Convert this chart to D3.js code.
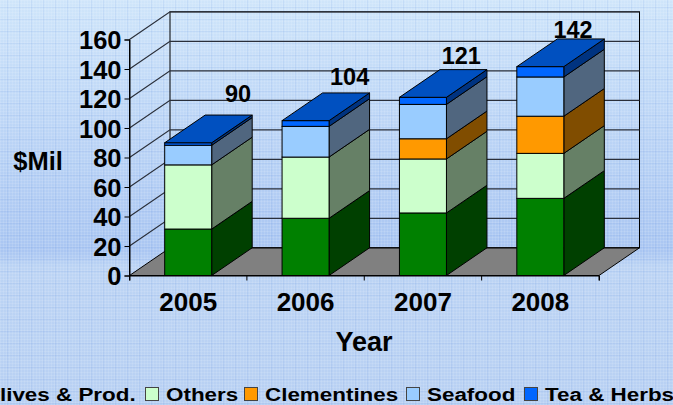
<!DOCTYPE html>
<html>
<head>
<meta charset="utf-8">
<script src="https://cdn.jsdelivr.net/npm/d3@7"></script>
<style>
html, body { margin: 0; padding: 0; overflow: hidden; }
text { font-family: "Liberation Sans", Arial, sans-serif; font-weight: bold; fill: #000; }
</style>
</head>
<body>
<script>
const years = ["2005", "2006", "2007", "2008"];
const seriesNames = ["Olives & Prod.", "Others", "Clementines", "Seafood", "Tea & Herbs"];
const olives = [31.5, 38.8, 42.4, 52.3];
const others = [43.5, 41.5, 36.6, 30.5];
const clementines = [0, 0, 13.7, 25.2];
const seafood = [13.3, 20.8, 23.3, 26.6];
const teaHerbs = [1.7, 3.9, 4.8, 7];
const totals = [90, 104, 121, 142];
const yTicks = [0, 20, 40, 60, 80, 100, 120, 140, 160];
const frontColors = ["#008000", "#ccffcc", "#ff9900", "#99ccff", "#0066ff"];
const sideColors = ["#004000", "#668066", "#804d00", "#50667f", "#003380"];
const topColor = "#0050c0";

const width = 673, height = 405;
const dx = 40.5, dy = -27.7;

const svg = d3.select("body").append("svg")
    .attr("width", width)
    .attr("height", height)
    .style("display", "block");

// background, a soft gradient with a fine woven grid on it
const defs = svg.append("defs");
const grad = defs.append("linearGradient").attr("id", "bg")
    .attr("x1", 0).attr("y1", 0).attr("x2", 0).attr("y2", 1);
grad.append("stop").attr("offset", "0%").attr("stop-color", "#cfe5fa");
grad.append("stop").attr("offset", "62%").attr("stop-color", "#aac6f2");
grad.append("stop").attr("offset", "66%").attr("stop-color", "#bcd4f4");
grad.append("stop").attr("offset", "100%").attr("stop-color", "#b8d0f3");
const weave = defs.append("pattern").attr("id", "weave")
    .attr("width", 12).attr("height", 12).attr("patternUnits", "userSpaceOnUse");
[0, 3, 6, 9].forEach(function(p) {
    weave.append("rect").attr("y", p).attr("width", 12).attr("height", 1).attr("fill", "#fff").attr("opacity", 0.1);
    weave.append("rect").attr("x", p).attr("width", 1).attr("height", 12).attr("fill", "#fff").attr("opacity", 0.1);
});
weave.append("rect").attr("y", 7).attr("width", 12).attr("height", 1).attr("fill", "#6f96e0").attr("opacity", 0.12);
weave.append("rect").attr("x", 7).attr("width", 1).attr("height", 12).attr("fill", "#6f96e0").attr("opacity", 0.12);
svg.append("rect").attr("width", width).attr("height", height).attr("fill", "url(#bg)");
svg.append("rect").attr("width", width).attr("height", height).attr("fill", "url(#weave)");

const x = d3.scaleBand().domain(years).range([129.5, 599]);
const y = d3.scaleLinear().domain([0, 160]).range([275.5, 39.5]);
// the totals float behind the bars and drift left and down from the bar tops
const labelX = d3.scalePoint().domain(years).range([238, 573]);
const labelY = d3.scaleLinear().domain([90, 142]).range([102, 38]);

const path = d3.line();
const x0 = x.range()[0], x1 = x.range()[1];

// floor
svg.append("path")
    .attr("d", path([[x0, y(0)], [x1, y(0)], [x1 + dx, y(0) + dy], [x0 + dx, y(0) + dy]]) + "Z")
    .attr("fill", "#808080")
    .attr("stroke", "#000")
    .attr("stroke-width", 1);

// back wall border and the gridlines on both walls
svg.append("rect")
    .attr("x", x0 + dx).attr("y", y(160) + dy)
    .attr("width", x1 - x0).attr("height", y(0) - y(160))
    .attr("fill", "none").attr("stroke", "#000").attr("stroke-width", 1);
svg.selectAll(".grid").data(yTicks.slice(1)).enter().append("path")
    .attr("class", "grid")
    .attr("d", function(d) { return path([[x0, y(d)], [x0 + dx, y(d) + dy], [x1 + dx, y(d) + dy]]); })
    .attr("fill", "none").attr("stroke", "#2a2f3a").attr("stroke-width", 1.2);
svg.append("line")
    .attr("x1", x0).attr("x2", x0).attr("y1", y(0)).attr("y2", y(160))
    .attr("stroke", "#000");

// stacked 3d bars
const table = years.map(function(year, i) {
    return { year: year, a: olives[i], b: others[i], c: clementines[i], d: seafood[i], e: teaHerbs[i] };
});
const stacked = d3.stack().keys(["a", "b", "c", "d", "e"])(table);
const bw = 47;
function barX(d) { return x(d.data.year) + x.bandwidth() / 2 - bw / 2; }

stacked.forEach(function(layer, s) {
    const g = svg.append("g");
    const shown = layer.filter(function(d) { return d[1] > d[0]; });
    g.selectAll(".side").data(shown).enter().append("path")
        .attr("d", function(d) {
            const r = barX(d) + bw;
            return path([[r, y(d[0])], [r + dx, y(d[0]) + dy], [r + dx, y(d[1]) + dy], [r, y(d[1])]]) + "Z";
        })
        .attr("fill", sideColors[s]).attr("stroke", "#000").attr("stroke-width", 1);
    g.selectAll(".front").data(shown).enter().append("rect")
        .attr("x", barX)
        .attr("y", function(d) { return y(d[1]); })
        .attr("width", bw)
        .attr("height", function(d) { return y(d[0]) - y(d[1]); })
        .attr("fill", frontColors[s]).attr("stroke", "#000").attr("stroke-width", 1);
});
svg.append("g").selectAll("path").data(stacked[4]).enter().append("path")
    .attr("d", function(d) {
        const l = barX(d), r = l + bw, t = y(d[1]);
        return path([[l, t], [r, t], [r + dx, t + dy], [l + dx, t + dy]]) + "Z";
    })
    .attr("fill", topColor).attr("stroke", "#000").attr("stroke-width", 1);

// axes
const yAxis = d3.axisLeft(y).tickValues(yTicks).tickSize(5).tickPadding(3);
const gy = svg.append("g").attr("transform", "translate(" + x0 + ",0)").call(yAxis);
gy.selectAll("text").style("font-size", "25.5px").attr("dy", "0.36em");
gy.select(".domain").attr("stroke", "#000");

const xAxis = d3.axisBottom(x).tickSize(5).tickPadding(0).tickFormat("");
const gx = svg.append("g").attr("transform", "translate(0," + y(0) + ")").call(xAxis);
gx.selectAll(".tick line").attr("transform", "translate(" + (x.bandwidth() / 2) + ",0)");
svg.append("line")
    .attr("x1", x0).attr("x2", x0).attr("y1", y(0)).attr("y2", y(0) + 5).attr("stroke", "#000");

svg.selectAll(".yearLabel").data(years).enter().append("text")
    .attr("class", "yearLabel")
    .attr("x", function(d) { return x(d) + x.bandwidth() / 2; })
    .attr("y", 311)
    .attr("text-anchor", "middle")
    .style("font-size", "26px")
    .text(function(d) { return d; });

// totals above each bar
svg.selectAll(".total").data(totals).enter().append("text")
    .attr("class", "total")
    .attr("x", function(d, i) { return labelX(years[i]); })
    .attr("y", function(d) { return labelY(d); })
    .attr("text-anchor", "middle")
    .style("font-size", "23.5px")
    .text(function(d) { return d; });

svg.append("text").attr("x", 38).attr("y", 170).attr("text-anchor", "middle")
    .style("font-size", "25.5px").text("$Mil");
svg.append("text").attr("x", 364).attr("y", 351).attr("text-anchor", "middle")
    .style("font-size", "27px").text("Year");

// legend runs off the left edge like the original, wide and short lettering
const legendX = [-37, 145.5, 244.5, 406.5, 524.5];
const legendText = [-17.5, 166, 265, 427, 545];
const lg = svg.append("g");
lg.selectAll("rect").data(seriesNames).enter().append("rect")
    .attr("x", function(d, i) { return legendX[i]; })
    .attr("y", 387.5).attr("width", 13).attr("height", 13)
    .attr("fill", function(d, i) { return frontColors[i]; })
    .attr("stroke", "#444");
lg.selectAll("text").data(seriesNames).enter().append("text")
    .attr("transform", function(d, i) { return "translate(" + legendText[i] + ",400.5) scale(1.18,1)"; })
    .style("font-size", "19px")
    .text(function(d) { return d; });
</script>
</body>
</html>
